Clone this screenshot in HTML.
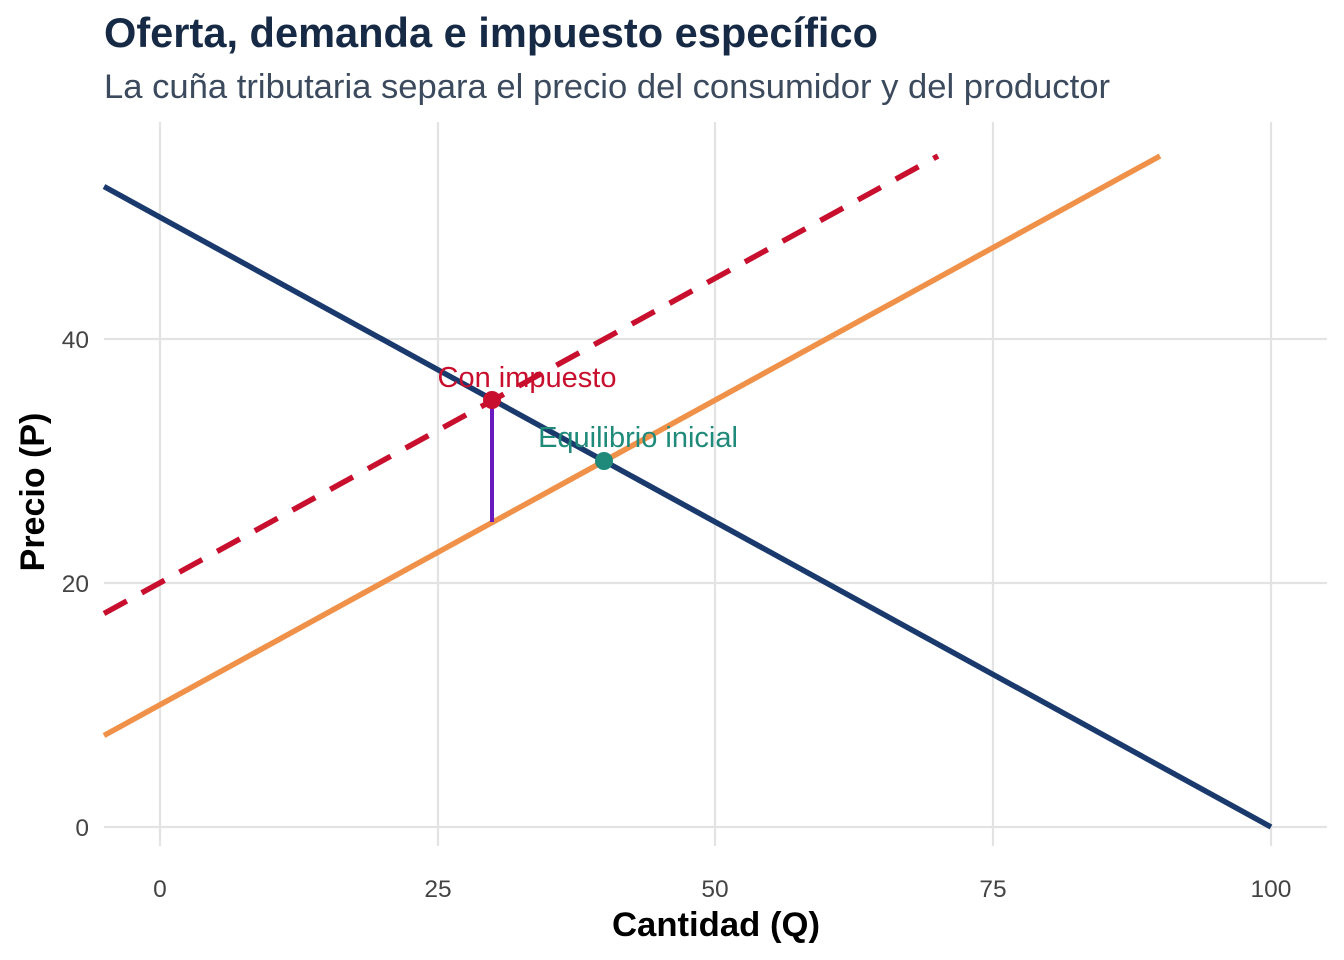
<!DOCTYPE html>
<html><head><meta charset="utf-8"><style>
html,body{margin:0;padding:0;background:#fff;}
svg{display:block;font-family:"Liberation Sans",Arial,sans-serif;}
</style></head><body>
<svg width="1344" height="960" viewBox="0 0 1344 960" xmlns="http://www.w3.org/2000/svg">
<rect width="1344" height="960" fill="#fff"/>
<text x="104" y="47" font-size="41.5" font-weight="bold" fill="#172a45" textLength="774" lengthAdjust="spacingAndGlyphs">Oferta, demanda e impuesto específico</text>
<text x="104" y="98" font-size="34" fill="#3c4a5e" textLength="1006" lengthAdjust="spacingAndGlyphs">La cuña tributaria separa el precio del consumidor y del productor</text>
<g stroke="#e3e3e3" stroke-width="2.2">
<line x1="160" y1="122" x2="160" y2="846"/>
<line x1="438" y1="122" x2="438" y2="846"/>
<line x1="715" y1="122" x2="715" y2="846"/>
<line x1="993" y1="122" x2="993" y2="846"/>
<line x1="1271" y1="122" x2="1271" y2="846"/>
<line x1="104" y1="339" x2="1327" y2="339"/>
<line x1="104" y1="583" x2="1327" y2="583"/>
<line x1="104" y1="827" x2="1327" y2="827"/>
</g>
<g font-size="24.5" fill="#444">
<text x="160" y="897" text-anchor="middle">0</text>
<text x="438" y="897" text-anchor="middle">25</text>
<text x="715" y="897" text-anchor="middle">50</text>
<text x="993" y="897" text-anchor="middle">75</text>
<text x="1271" y="897" text-anchor="middle">100</text>
<text x="89" y="348" text-anchor="end">40</text>
<text x="89" y="592" text-anchor="end">20</text>
<text x="89" y="836" text-anchor="end">0</text>
</g>
<text x="716" y="936" font-size="34" font-weight="bold" text-anchor="middle" fill="#000" textLength="208" lengthAdjust="spacingAndGlyphs">Cantidad (Q)</text>
<text transform="translate(44,492) rotate(-90)" font-size="34" font-weight="bold" text-anchor="middle" fill="#000">Precio (P)</text>
<line x1="104" y1="735.5" x2="1160" y2="156" stroke="#f0914a" stroke-width="5.5"/>
<line x1="104" y1="613.5" x2="938" y2="156" stroke="#c8102e" stroke-width="5.5" stroke-dasharray="26,17"/>
<line x1="104" y1="186.5" x2="1271" y2="827" stroke="#1a3a6e" stroke-width="5.5"/>
<line x1="492" y1="400" x2="492" y2="522" stroke="#6a1bbf" stroke-width="4"/>
<circle cx="492" cy="400" r="9" fill="#c8102e"/>
<circle cx="604" cy="461" r="9" fill="#1f8a7a"/>
<text x="527" y="387" font-size="29" fill="#c8102e" text-anchor="middle">Con impuesto</text>
<text x="638" y="447" font-size="29" fill="#1f8a7a" text-anchor="middle">Equilibrio inicial</text>
</svg>
</body></html>
